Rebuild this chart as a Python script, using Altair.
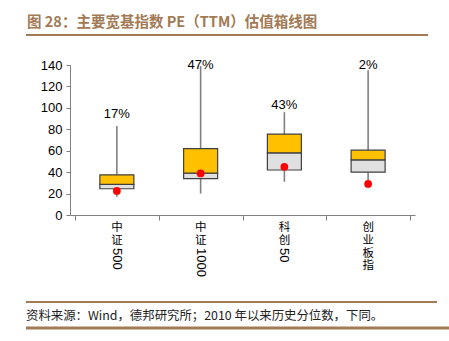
import altair as alt
import pandas as pd

categories = ["中证500", "中证1000", "科创50", "创业板指"]
upright_chars = ["中证", "中证", "科创", "创业板指"]
digit_parts = ["500", "1000", "50", ""]
whisker_min = [17, 20, 31, 30]
q1 = [24.5, 34, 42, 40]
median = [28.5, 39, 58, 51.5]
q3 = [37.5, 62, 75.5, 60.5]
whisker_max = [83, 139, 96, 135]
current = [22.5, 38.8, 45, 29]
pct_labels = ["17%", "47%", "43%", "2%"]
pct_label_pos = [94.5, 140, 103, 140]

TITLE = "图 28：主要宽基指数 PE（TTM）估值箱线图"
SOURCE = "资料来源：Wind，德邦研究所；2010 年以来历史分位数，下同。"

df = pd.DataFrame({
    "cat": categories,
    "pos": [i + 0.5 for i in range(len(categories))],
    "up": upright_chars,
    "dig": digit_parts,
    "wmin": whisker_min,
    "q1": q1,
    "med": median,
    "q3": q3,
    "wmax": whisker_max,
    "cur": current,
    "pct": pct_labels,
    "pctpos": pct_label_pos,
})

W, H = 345, 150
LAT = "Liberation Sans"
CJK = "Noto Sans CJK SC"
BROWN = "#A27A55"

xaxis = alt.Axis(values=[0, 1, 2, 3, 4], labels=False, title=None, grid=False,
                 tickSize=5, domainColor="#808080", tickColor="#808080")
xscale = alt.Scale(domain=[0, 4], nice=False)
yaxis = alt.Axis(values=[0, 20, 40, 60, 80, 100, 120, 140], title=None, grid=False,
                 tickSize=4, labelFontSize=13, labelFont=LAT, labelColor="#000000",
                 labelOverlap=False, labelPadding=4,
                 domainColor="#808080", tickColor="#808080")
yscale = alt.Scale(domain=[0, 140], nice=False)


def X():
    return alt.X("pos:Q", scale=xscale, axis=xaxis)


def Y(f):
    return alt.Y(f"{f}:Q", scale=yscale, axis=yaxis)


base = alt.Chart(df)

whisk_low = base.mark_rule(color="#808080", strokeWidth=1.6).encode(x=X(), y=Y("wmin"), y2="q1:Q")
whisk_high = base.mark_rule(color="#808080", strokeWidth=1.6).encode(x=X(), y=Y("q3"), y2="wmax:Q")
box_low = base.mark_bar(size=34, color="#E0E0E0", stroke="#404040", strokeWidth=1.2).encode(
    x=X(), y=Y("q1"), y2="med:Q")
box_high = base.mark_bar(size=34, color="#FFC000", stroke="#404040", strokeWidth=1.2).encode(
    x=X(), y=Y("med"), y2="q3:Q")
dots = base.mark_circle(size=60, color="#FF0000", opacity=1).encode(x=X(), y=Y("cur"))
pct = base.mark_text(font=LAT, fontSize=13, color="#000000", baseline="middle").encode(
    x=X(), y=Y("pctpos"), text="pct:N")

LINE = 12.8
up_text = base.transform_calculate(chars="split(datum.up, '')").transform_flatten(
    ["chars"], as_=["ch"]
).transform_window(idx="row_number()", groupby=["cat"]).transform_calculate(
    py=f"{H + 7} + (datum.idx - 1) * {LINE}"
).mark_text(font=CJK, fontSize=11.5, baseline="top", color="#000000").encode(
    x=X(), y=alt.Y("py:Q", scale=None), text="ch:N")
dig_text = base.transform_filter("datum.dig != ''").mark_text(
    font=LAT, fontSize=13, angle=90, align="left", baseline="middle", color="#000000").encode(
    x=X(), y=alt.value(H + 33), text="dig:N")

one = alt.Chart(pd.DataFrame({"title": [TITLE], "source": [SOURCE]}))
title = one.mark_text(font=CJK, fontSize=14.5, fontWeight="bold", color=BROWN, align="left",
                      baseline="middle").encode(x=alt.value(-43), y=alt.value(-42), text="title:N")
title_line = one.mark_rule(color=BROWN, strokeWidth=2).encode(
    x=alt.value(-44), x2=alt.value(358), y=alt.value(-30))
src_line = one.mark_rule(color=BROWN, strokeWidth=2).encode(
    x=alt.value(-44), x2=alt.value(367), y=alt.value(237))
src = one.mark_text(font=CJK, fontSize=12.4, color="#222222", align="left",
                    baseline="middle").encode(x=alt.value(-44), y=alt.value(251), text="source:N")
bottom_line = one.mark_rule(color=BROWN, strokeWidth=3).encode(
    x=alt.value(-44), x2=alt.value(379), y=alt.value(263))

chart = alt.layer(
    whisk_low, whisk_high, box_low, box_high, dots, pct, up_text, dig_text,
    title, title_line, src_line, src, bottom_line
).properties(
    width=W, height=H,
    padding={"left": 70, "top": 65, "right": 34, "bottom": 126},
    autosize=alt.AutoSizeParams(type="none"),
    background="#FFFFFF",
).configure_view(stroke=None)

chart.save("out.html", embed_options={"renderer": "svg", "actions": False})
